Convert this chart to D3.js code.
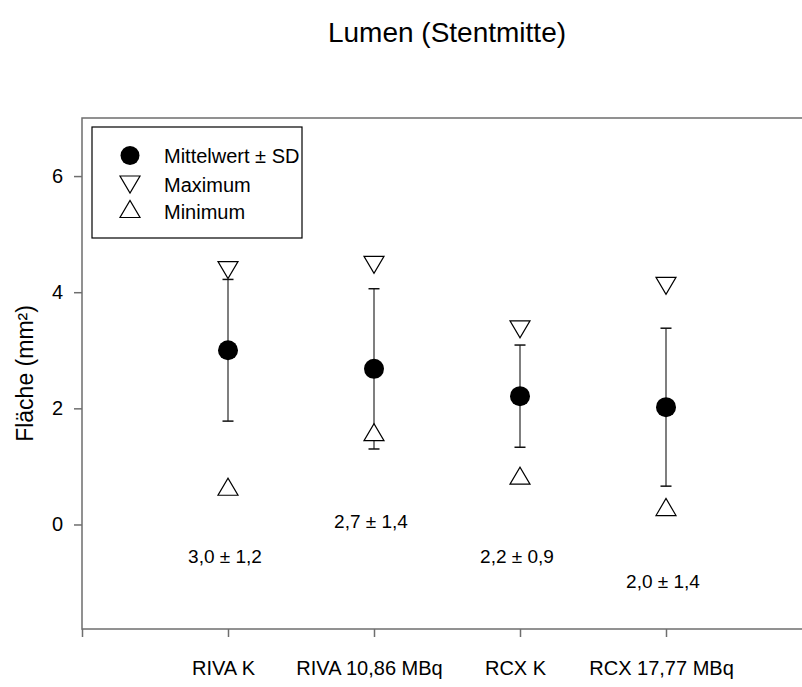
<!DOCTYPE html>
<html>
<head>
<meta charset="utf-8">
<script src="https://cdn.jsdelivr.net/npm/d3@7"></script>
<style>
body { margin: 0; background: #fff; }
text { font-family: "Liberation Sans", Arial, Helvetica, sans-serif; fill: #000; }
</style>
</head>
<body>
<svg width="802" height="687"></svg>
<script>
var categories = ["RIVA K", "RIVA 10,86 MBq", "RCX K", "RCX 17,77 MBq"];
var means = [3.0, 2.68, 2.21, 2.02];
var sds = [1.22, 1.38, 0.88, 1.36];
var maxima = [4.38, 4.47, 3.36, 4.11];
var minima = [0.65, 1.59, 0.84, 0.30];
var annotations = ["3,0 ± 1,2", "2,7 ± 1,4", "2,2 ± 0,9", "2,0 ± 1,4"];
var annotationY = [-0.55, 0.05, -0.55, -0.98];
var yTicks = [0, 2, 4, 6];

var svg = d3.select("svg"),
	width = +svg.attr("width"),
	height = +svg.attr("height");

var x = d3.scaleLinear().domain([0, 5]).range([82, 812]);
var y = d3.scaleLinear().domain([-1.8, 7]).range([629, 118]);

var axisColor = "#6e6e6e";

// title
svg.append("text")
	.attr("x", (x(0) + x(5)) / 2)
	.attr("y", 42)
	.attr("text-anchor", "middle")
	.style("font-size", "28px")
	.text("Lumen (Stentmitte)");

// frame
svg.append("rect")
	.attr("x", x(0)).attr("y", y(7))
	.attr("width", x(5) - x(0)).attr("height", y(-1.8) - y(7))
	.attr("fill", "none")
	.attr("stroke", axisColor)
	.attr("stroke-width", 1.5);

var yAxis = svg.append("g")
	.attr("transform", "translate(" + x(0) + ",0)")
	.call(d3.axisLeft(y).tickValues(yTicks).tickSize(8).tickPadding(11).tickFormat(d3.format("d")));
yAxis.select(".domain").remove();
yAxis.selectAll(".tick line").attr("stroke", axisColor).attr("stroke-width", 1.5);
yAxis.selectAll(".tick text").style("font-size", "20px").attr("font-family", null);

var xAxis = svg.append("g")
	.attr("transform", "translate(0," + y(-1.8) + ")")
	.call(d3.axisBottom(x).tickValues([0, 1, 2, 3, 4, 5]).tickSize(8).tickPadding(24)
		.tickFormat(function(d) { return categories[d - 1] || ""; }));
xAxis.select(".domain").remove();
xAxis.selectAll(".tick line").attr("stroke", axisColor).attr("stroke-width", 1.5);
xAxis.selectAll(".tick text").style("font-size", "20px").attr("font-family", null).attr("dx", -5);

// y axis title
svg.append("text")
	.attr("transform", "translate(33," + ((y(7) + y(-1.8)) / 2) + ") rotate(-90)")
	.attr("text-anchor", "middle")
	.style("font-size", "23px")
	.text("Fläche (mm²)");

var rows = categories.map(function(c, i) {
	return {i: i + 1, mean: means[i], sd: sds[i], max: maxima[i], min: minima[i], label: annotations[i], ly: annotationY[i]};
});

var tri = 10, triH = 17;
function downTri(cx, cy) {
	return "M" + (cx - tri) + "," + (cy - triH / 2) + "L" + (cx + tri) + "," + (cy - triH / 2) + "L" + cx + "," + (cy + triH / 2) + "Z";
}
function upTri(cx, cy) {
	return "M" + (cx - tri) + "," + (cy + triH / 2) + "L" + (cx + tri) + "," + (cy + triH / 2) + "L" + cx + "," + (cy - triH / 2) + "Z";
}

var g = svg.append("g");

// error bars
g.selectAll("line.bar").data(rows).enter().append("line")
	.attr("class", "bar")
	.attr("x1", function(d) { return x(d.i); })
	.attr("x2", function(d) { return x(d.i); })
	.attr("y1", function(d) { return y(d.mean + d.sd); })
	.attr("y2", function(d) { return y(d.mean - d.sd); })
	.attr("stroke", "#555").attr("stroke-width", 1.5);

[1, -1].forEach(function(s) {
	g.selectAll("line.cap" + s).data(rows).enter().append("line")
		.attr("x1", function(d) { return x(d.i) - 5.5; })
		.attr("x2", function(d) { return x(d.i) + 5.5; })
		.attr("y1", function(d) { return y(d.mean + s * d.sd); })
		.attr("y2", function(d) { return y(d.mean + s * d.sd); })
		.attr("stroke", "#111").attr("stroke-width", 1.5);
});

g.selectAll("path.max").data(rows).enter().append("path")
	.attr("d", function(d) { return downTri(x(d.i), y(d.max)); })
	.attr("fill", "#fff").attr("stroke", "#000").attr("stroke-width", 1.2);

g.selectAll("path.min").data(rows).enter().append("path")
	.attr("d", function(d) { return upTri(x(d.i), y(d.min)); })
	.attr("fill", "#fff").attr("stroke", "#000").attr("stroke-width", 1.2);

g.selectAll("circle").data(rows).enter().append("circle")
	.attr("cx", function(d) { return x(d.i); })
	.attr("cy", function(d) { return y(d.mean); })
	.attr("r", 10)
	.attr("fill", "#000");

g.selectAll("text.ann").data(rows).enter().append("text")
	.attr("x", function(d) { return x(d.i) - 3; })
	.attr("y", function(d) { return y(d.ly); })
	.attr("dy", "0.35em")
	.attr("text-anchor", "middle")
	.style("font-size", "19px")
	.text(function(d) { return d.label; });

// legend
var legend = svg.append("g");
var legendItems = ["Mittelwert ± SD", "Maximum", "Minimum"];
var ly = [163, 191.5, 219];
legend.append("rect")
	.attr("x", 92).attr("y", 127)
	.attr("width", 210).attr("height", 111)
	.attr("fill", "#fff").attr("stroke", "#000").attr("stroke-width", 1.2);
legend.append("circle").attr("cx", 130).attr("cy", 155.5).attr("r", 9.5).attr("fill", "#000");
legend.append("path").attr("d", downTri(130, 184.5)).attr("fill", "#fff").attr("stroke", "#000").attr("stroke-width", 1.2);
legend.append("path").attr("d", upTri(130, 209)).attr("fill", "#fff").attr("stroke", "#000").attr("stroke-width", 1.2);
legend.selectAll("text").data(legendItems).enter().append("text")
	.attr("x", 164)
	.attr("y", function(d, i) { return ly[i]; })
	.style("font-size", "20px")
	.text(function(d) { return d; });
</script>
</body>
</html>
